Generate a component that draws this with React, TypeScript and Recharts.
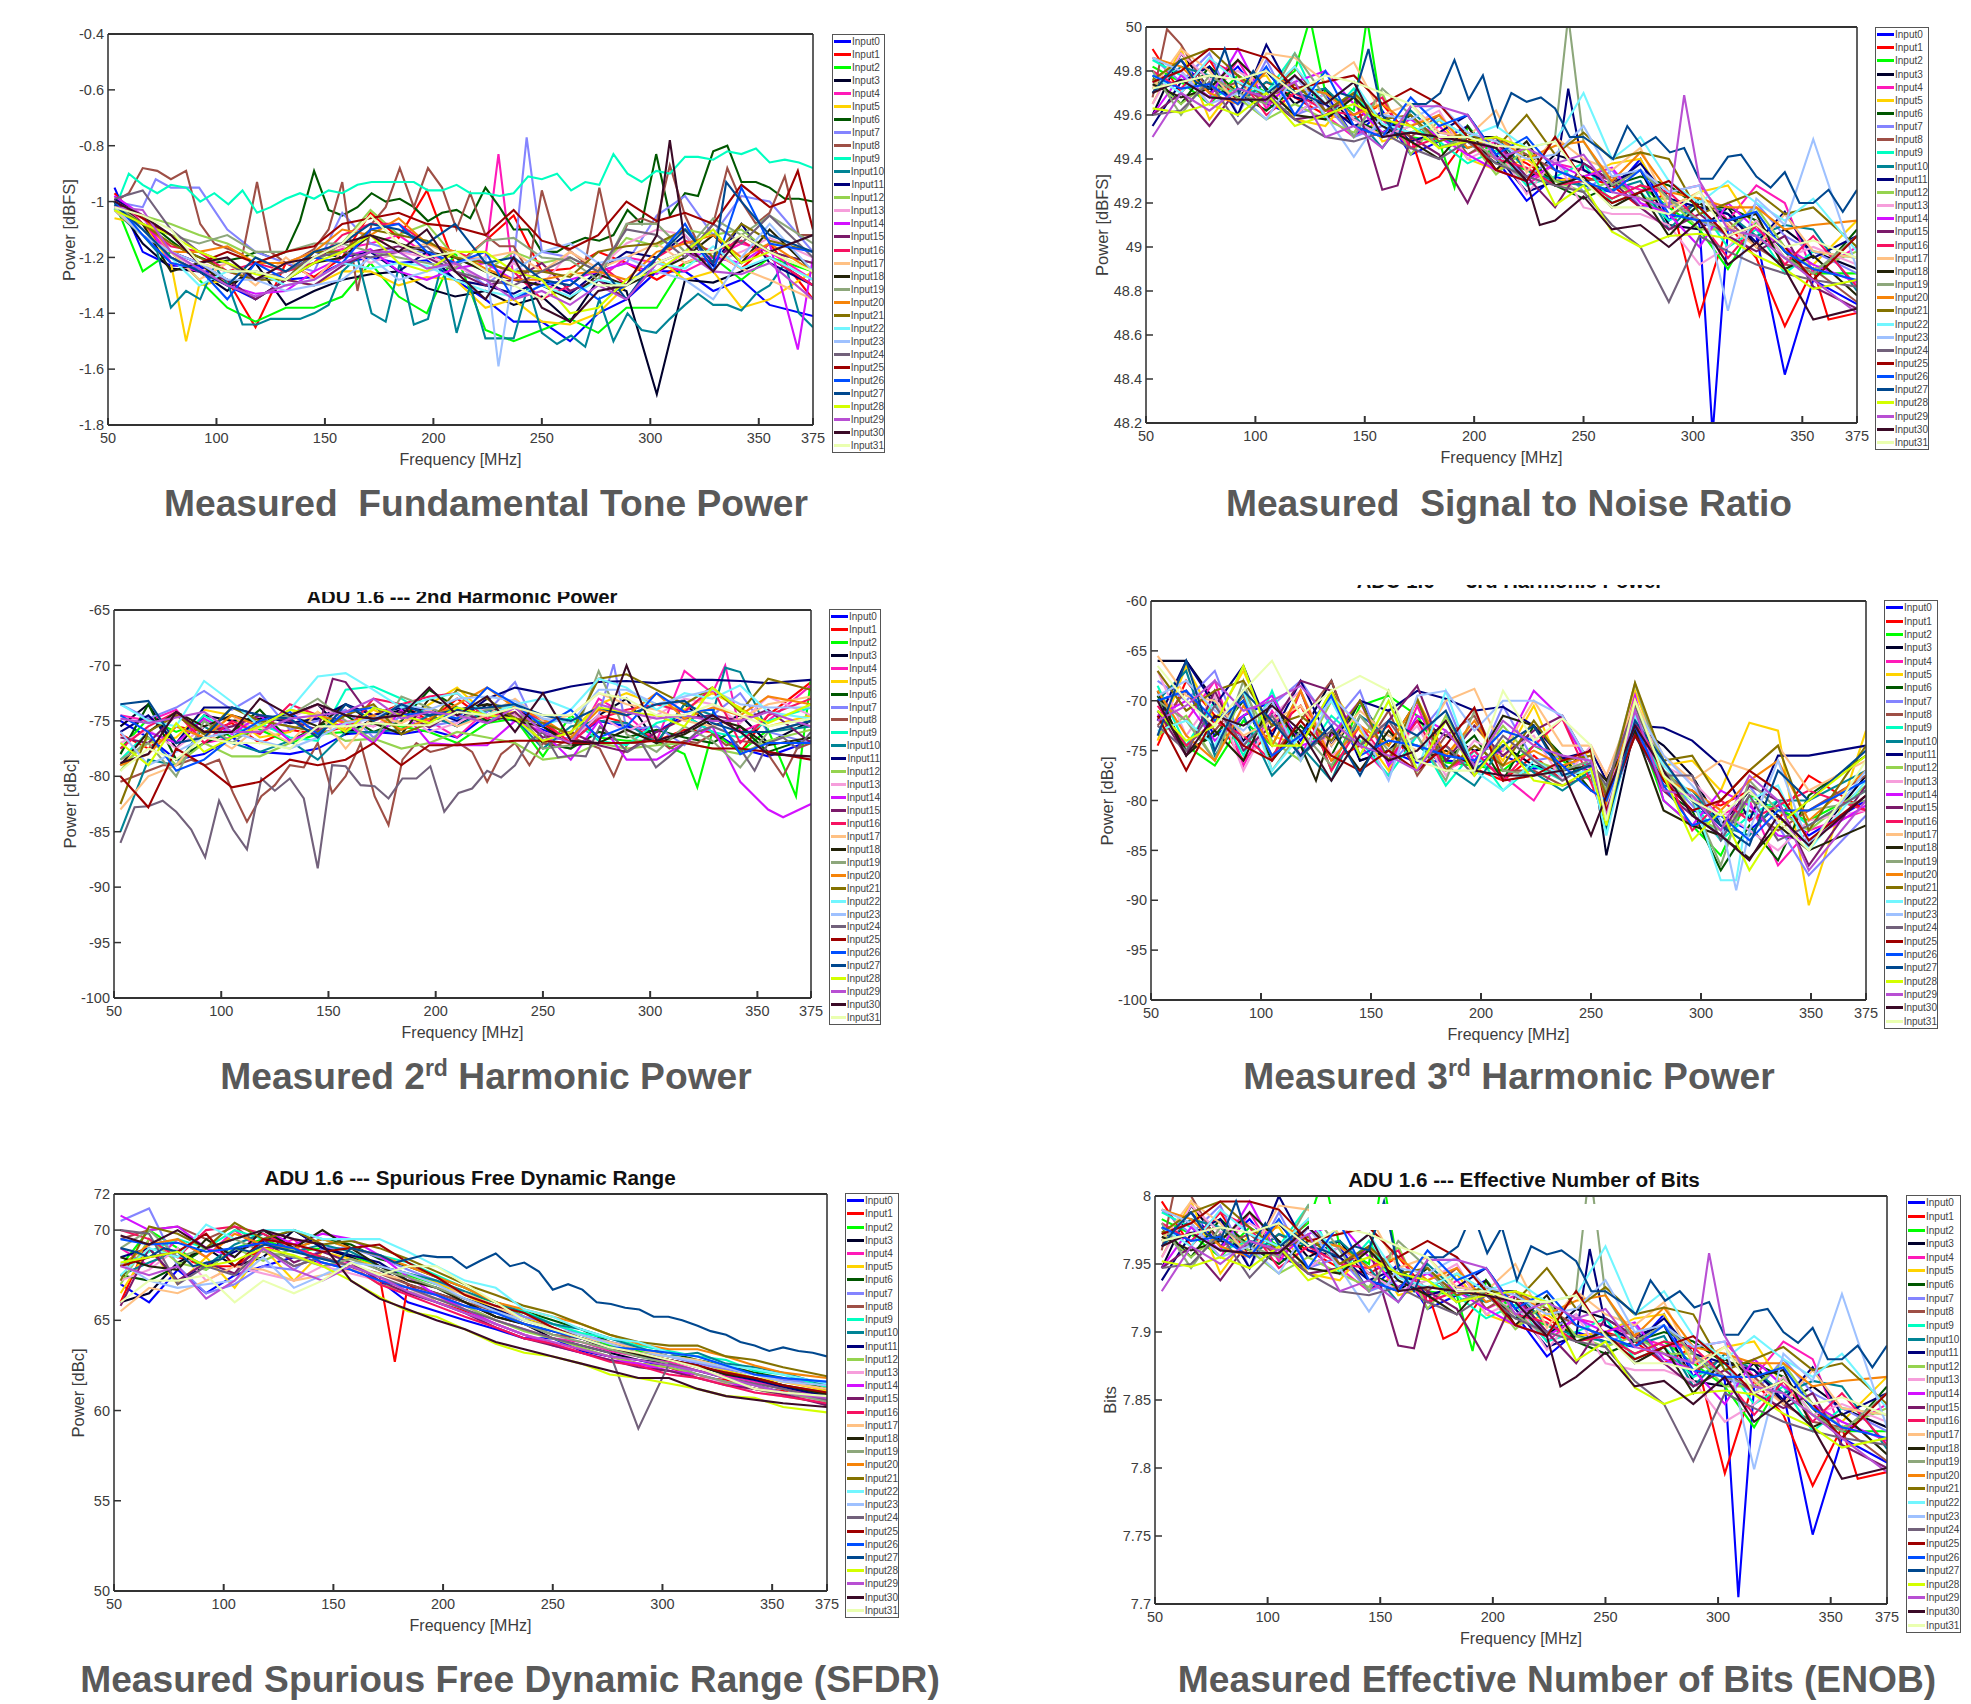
import React from 'react';
import { LineChart, Line, XAxis, YAxis, CartesianGrid } from 'recharts';

const NAMES = Array.from({ length: 32 }, (_, i) => `Input${i}`);
const COLORS = ['#0000ff','#ff0000','#00ff00','#00002b','#ff1ab8','#ffd300','#005700','#8484ff','#9e4f46','#00ffc1','#008495','#00007b','#95d34f','#f69edb','#d311ff','#7b1a6a','#f61261','#ffc184','#232309','#8da77b','#f68409','#847200','#72f6ff','#9ec1ff','#72617b','#9e0000','#004fff','#00488f','#d3ff00','#b84fd3','#3b0a27','#eaffb0'];

const FREQ_FINE = [53,59.6,66,72.7,79,86,92.5,99,105.5,112,118.7,125,132,138.5,145,151.7,158,165,171.5,178,184.5,191,197.5,204,210.7,217,224,230.5,237,243.7,250,257,263.5,270,276.5,283,289.5,296,302.7,309,316,322,329,335.5,342,348.7,355,362,368.5,375];
const COARSE = [53,66,79,92,105,118,132,145,158,171,184,197,210,224,237,250,263,276,289,303,316,329,342,355,375];
const COARSE_3RD = [53,66,79,92,105,118,132,145,158,171,184,197,210,224,237,250,257,270,283,296,309,322,335,349,375];

// Fundamental tone power, hundredths of a dB below 0 dBFS
const FUND = [
[95,118,123,123,130,135,128,127,122,120,122,121,128,135,143,143,150,140,135,125,125,132,128,137,141],
[97,108,120,125,128,145,122,127,120,104,113,96,123,114,105,125,124,118,122,128,122,118,124,115,135],
[100,125,118,128,138,143,138,138,134,122,134,140,118,146,150,146,142,147,138,138,122,120,128,120,125],
[100,115,124,125,132,122,137,132,128,126,125,131,134,132,137,134,143,128,132,130,128,129,125,120,130],
[98,108,118,122,125,128,125,120,117,115,112,119,122,120,128,130,132,128,120,122,125,120,115,118,128],
[106,108,122,130,128,135,128,130,125,125,130,127,128,138,135,143,144,140,130,120,128,125,138,135,125],
[100,102,106,110,114,118,120,122,121,120,118,120,118,107,89,103,105,102,97,100,99,102,107,104,103,106,95,102,110,110,118,118,115,113,114,112,103,108,83,105,97,98,82,80,93,93,95,99,99,100],
[100,102,95,95,110,118,122,125,104,115,118,118,122,130,122,118,120,125,122,105,98,112,98,100,118],
[100,97,88,89,92,89,108,115,117,119,93,118,122,120,117,110,93,132,108,102,88,102,88,95,110,97,112,116,116,125,96,115,118,122,95,118,108,106,108,87,105,115,108,88,100,108,104,91,112,112],
[103,90,94,97,94,95,100,97,101,96,104,102,99,97,99,96,97,94,93,93,93,93,96,96,94,97,97,98,97,91,92,90,96,93,94,83,90,93,89,90,84,84,85,82,83,81,86,85,86,88],
[103,108,112,118,138,132,135,123,130,144,144,142,142,142,140,137,125,120,140,143,122,144,142,122,147,130,149,149,149,130,147,151,148,152,135,150,140,146,147,142,137,133,137,137,139,133,130,122,140,145],
[99,105,118,122,128,135,128,118,120,118,125,118,128,130,133,128,133,125,118,120,112,123,108,122,130],
[101,105,108,112,115,120,125,122,115,103,112,108,120,125,118,122,120,125,113,116,110,112,110,118,122],
[100,106,118,125,122,128,122,118,116,122,118,120,123,128,122,130,118,124,115,110,112,122,118,113,120],
[98,105,122,125,130,133,132,125,120,117,125,128,124,122,128,130,128,125,122,126,118,120,122,115,120],
[100,110,120,125,128,135,128,130,123,118,116,120,125,130,128,122,132,128,135,122,118,122,112,118,122],
[102,108,116,118,125,122,125,122,112,108,108,115,118,122,125,135,130,122,130,120,114,118,114,120,130],
[103,112,118,128,122,130,120,128,118,112,118,115,120,120,118,125,118,124,120,115,122,118,124,128,135],
[100,108,125,122,130,125,128,122,120,112,115,118,120,125,128,130,135,126,130,125,120,112,122,110,125],
[101,108,112,115,112,118,118,115,115,118,120,122,124,114,113,120,121,128,108,108,118,106,112,105,115],
[100,105,118,118,116,122,122,118,110,112,106,115,118,124,128,128,126,125,128,118,115,112,120,115,125],
[102,108,115,120,125,128,128,118,118,110,112,114,120,122,125,125,127,118,116,115,110,120,108,114,118],
[101,110,120,130,125,125,130,128,122,124,122,123,128,132,134,130,134,128,130,122,124,116,124,120,128],
[102,112,118,122,128,128,132,130,128,120,128,125,122,120,125,118,115,122,120,125,128,135,120,108,125],
[99,96,110,118,122,128,125,120,118,120,118,116,125,128,130,125,120,125,110,112,120,108,115,105,120],
[100,106,112,122,118,122,118,116,108,106,104,108,109,112,103,114,117,112,100,107,104,108,94,102,110],
[100,112,122,124,135,122,128,120,122,110,108,118,122,118,135,130,128,135,130,120,108,125,95,115,118],
[101,110,120,125,130,120,125,118,115,108,110,115,108,122,120,128,130,122,135,120,110,122,100,112,118],
[103,108,112,118,122,126,128,122,118,112,122,125,118,118,125,128,140,138,128,125,118,110,122,118,125],
[102,103,118,124,130,134,130,128,122,118,118,124,122,128,135,132,137,130,135,122,118,125,126,122,135],
[100,105,112,122,120,128,122,120,115,112,118,110,125,135,120,138,143,132,130,112,115,125,112,118,112],
[102,105,110,122,125,125,128,120,115,105,115,120,118,125,130,135,125,130,130,122,118,118,112,118,125],
];
const FUND_SPIKES = [[3,303,169],[4,230,83],[5,86,150],[7,72,92],[7,86,95],[7,243,77],[14,368,153],[23,230,159],[25,362,100],[25,368,89],[27,335,93],[30,309,78]];

// Signal to noise ratio, hundredths of a dB above 48 dB
const SNR = [
[172,185,170,182,165,160,170,150,162,142,148,155,140,121,132,128,125,140,112,110,108,105,42,85,74],
[190,170,185,165,175,168,160,158,165,150,132,150,145,138,130,132,128,118,125,69,110,95,64,90,70],
[182,175,165,178,170,180,170,162,160,150,148,155,140,135,128,130,122,128,118,108,90,112,95,88,88],
[160,188,172,168,180,165,172,155,150,160,145,150,150,130,142,138,130,135,110,108,118,100,108,98,90],
[175,180,165,185,163,178,160,150,158,145,155,142,148,128,138,135,130,126,125,128,112,128,120,88,100],
[165,190,158,175,178,158,155,170,148,152,158,140,135,140,130,132,138,140,118,125,128,108,100,92,112],
[178,165,182,170,162,172,170,158,152,160,145,148,138,142,128,122,128,132,128,118,118,112,98,85,108],
[186,175,188,160,185,160,165,150,155,148,152,150,145,132,140,125,135,118,120,112,105,120,105,98,88],
[168,192,170,175,165,182,162,168,158,150,160,142,150,142,135,130,132,122,115,120,112,100,92,90,75],
[185,178,168,172,170,188,158,172,150,155,148,138,144,128,132,138,120,125,112,118,100,108,88,98,95],
[170,182,178,165,175,170,172,160,145,162,150,145,150,135,130,128,126,130,108,122,115,105,110,108,80],
[155,175,182,160,192,168,165,155,160,148,152,160,142,125,130,135,128,138,122,118,115,102,116,95,105],
[176,165,175,168,158,165,158,152,170,142,158,150,133,145,130,125,130,122,122,108,108,118,100,90,98],
[165,188,176,180,172,160,170,158,150,155,162,140,146,124,140,118,115,115,110,92,100,112,95,100,92],
[160,178,168,190,165,175,180,165,152,158,150,142,135,130,138,132,136,120,115,100,120,108,100,92,84],
[160,170,155,172,168,158,160,170,126,150,142,120,148,132,118,138,130,118,108,115,105,98,105,82,72],
[180,172,185,178,160,170,162,160,168,145,150,148,140,136,128,130,122,128,125,112,95,110,92,105,82],
[172,190,180,165,188,186,175,184,160,165,152,150,162,134,150,140,135,145,118,125,110,100,115,98,95],
[174,168,172,185,172,160,158,168,155,148,140,155,135,148,128,132,118,125,105,120,112,115,90,96,78],
[180,160,178,170,165,188,168,150,172,160,145,150,140,130,136,148,128,135,122,112,108,105,95,88,105],
[186,182,170,165,180,172,170,160,165,155,160,145,150,140,146,148,130,143,125,122,118,118,108,110,112],
[176,185,190,178,168,174,162,170,158,160,148,152,145,160,142,152,140,143,140,115,120,125,115,118,100],
[178,170,186,175,170,182,165,175,156,152,158,150,155,145,148,170,140,150,130,120,130,120,112,122,98],
[186,180,165,170,158,178,160,141,160,158,165,152,148,140,142,155,132,135,125,128,71,122,110,149,90],
[160,162,175,156,170,158,150,148,152,145,140,148,138,132,128,125,110,100,75,105,98,92,88,85,82],
[175,180,190,190,186,172,175,178,165,172,165,150,135,130,150,130,120,125,130,118,105,110,100,85,105],
[178,172,174,165,182,160,180,155,150,168,155,160,142,150,135,130,125,135,115,112,112,116,98,90,85],
[170,178,185,175,172,190,170,180,170,175,170,168,165,170,168,190,160,150,165,165,170,185,167,178,155,170,166,168,163,150,150,145,140,155,146,150,143,145,131,131,141,142,132,127,134,120,120,126,116,126],
[163,161,165,160,170,155,160,165,158,155,145,148,150,145,119,128,107,100,105,106,104,96,90,81,85],
[150,170,162,172,168,175,150,155,145,164,164,160,140,145,138,142,125,122,118,130,108,105,95,85,70],
[170,176,168,167,167,178,165,175,150,152,150,148,145,130,112,123,108,110,100,112,92,102,90,67,72],
[172,175,178,176,180,170,178,175,170,165,150,150,146,145,148,130,118,118,115,125,105,110,100,103,95],
];
const SNR_SPIKES = [[0,309,15],[0,296,120],[1,178,129],[1,362,67],[2,125,204],[2,151,204],[2,191,127],[8,59.6,199],[11,243,172],[15,165,128],[19,243,205],[19,237,150],[29,296,169],[30,230,110]];

// 2nd harmonic power, tenths of a dB below 0 dBc
const H2 = [
[750,765,785,780,765,778,780,775,762,760,762,758,765,745,750,758,768,750,755,760,745,760,775,782,768],
[762,775,755,760,752,770,758,762,755,745,735,750,730,750,745,752,770,745,752,768,758,760,778,745,715],
[775,748,760,750,765,758,770,762,760,752,755,760,770,752,748,782,745,765,768,768,780,760,778,758,712],
[755,735,775,745,750,748,745,735,762,748,740,745,755,735,738,755,770,745,730,770,735,755,745,770,750],
[745,750,740,770,765,755,760,745,750,755,742,750,765,740,745,770,775,730,745,768,705,725,760,750,718],
[790,770,765,740,745,765,760,742,758,740,752,735,720,745,742,770,760,735,725,735,740,725,738,755,745],
[780,735,785,770,760,740,768,755,745,760,750,722,738,750,745,770,775,760,765,758,765,770,755,778,765],
[735,748,738,723,740,725,758,750,740,765,745,755,750,742,715,768,765,745,758,755,772,745,725,760,770],
[805,800,795,790,790,785,790,785,815,841,818,808,790,792,770,815,800,770,818,844,785,770,778,775,770,778,805,780,770,790,770,772,765,770,775,800,770,770,765,775,768,770,762,772,768,770,780,800,775,770],
[785,760,770,745,762,752,765,768,722,719,730,745,738,752,735,752,748,768,772,752,745,760,765,750,738],
[850,785,790,755,770,778,768,785,760,760,758,745,755,740,748,775,755,750,752,770,735,745,745,760,755],
[760,745,770,738,738,745,752,748,735,745,738,740,750,730,720,725,719,715,714,716,713,713,714,716,713],
[795,765,790,770,782,782,770,755,768,766,775,770,760,765,770,785,782,770,775,772,770,775,780,768,758],
[770,758,775,755,745,760,748,735,750,755,742,760,752,738,745,760,768,745,760,745,730,735,752,728,745],
[790,760,770,748,762,745,768,758,752,770,740,770,772,772,750,760,785,750,785,785,770,755,805,830,825],
[765,770,745,760,755,745,750,758,715,750,742,756,740,752,742,765,760,772,778,760,748,745,750,740,770],
[775,755,742,770,750,762,735,745,760,730,735,728,725,748,738,750,770,748,740,735,742,720,770,745,730],
[830,800,790,760,775,755,770,742,775,745,752,740,755,745,730,750,745,725,735,740,750,755,748,735,728],
[790,760,742,755,745,752,745,755,735,752,762,730,740,735,750,755,772,770,758,770,762,748,755,772,765],
[785,770,800,750,770,752,745,730,750,768,728,738,748,740,735,775,772,705,762,778,755,768,792,760,750],
[790,780,755,765,745,755,740,745,752,745,758,748,735,720,738,748,765,740,745,725,748,738,745,728,735],
[825,760,745,762,738,750,755,760,745,735,762,752,722,730,748,752,762,712,708,722,735,720,742,712,722],
[735,750,755,714,733,755,740,710,707,722,738,730,725,745,735,730,740,712,720,740,725,730,718,742,748],
[760,790,778,765,760,768,775,765,752,748,735,740,730,728,732,748,752,722,722,735,728,722,735,738,738],
[860,828,827,822,832,848,873,822,848,866,802,813,802,820,883,790,791,808,809,820,802,802,791,832,815,811,795,801,790,768,760,783,781,782,755,765,778,770,792,782,770,760,755,760,775,795,770,765,775,760],
[800,828,775,790,810,805,785,790,785,770,790,772,772,770,768,768,770,770,770,768,770,775,775,778,785],
[745,760,795,785,765,750,742,762,742,738,745,742,748,720,735,755,740,765,755,725,742,740,780,770,770],
[735,732,770,765,738,745,748,765,735,750,735,745,740,738,735,745,750,738,745,735,732,752,760,760,750],
[770,790,752,778,765,755,740,745,760,738,745,752,738,745,748,768,760,738,742,745,755,720,740,752,735],
[748,752,747,742,760,760,748,745,742,730,748,742,745,752,738,760,770,735,742,748,745,750,750,742,755],
[788,780,742,760,760,730,745,735,745,748,745,720,745,728,760,725,768,770,700,768,760,745,760,780,782],
[795,775,785,765,770,770,775,755,755,752,754,754,742,745,738,745,745,725,730,745,745,735,745,755,748],
];
const H2_SPIKES = [[2,322,810],[2,368,818],[4,335,700],[7,283,699],[10,335,702],[10,342,706],[14,362,837],[15,152,712],[19,276,705]];

// 3rd harmonic power, tenths of a dB below 0 dBc
const H3 = [
[700,690,735,715,700,740,695,760,750,762,760,762,755,768,765,770,795,728,780,810,815,830,805,835,800],
[745,680,715,760,730,705,760,745,725,770,745,768,780,755,780,760,810,735,760,800,805,790,820,775,810],
[710,745,765,720,745,690,770,705,695,715,762,765,770,745,760,780,785,720,800,825,855,795,810,820,790],
[660,660,700,740,712,735,680,760,750,720,735,750,745,765,770,748,855,725,745,775,825,790,815,845,775],
[695,720,680,765,710,755,700,745,775,705,770,755,775,800,755,790,800,735,785,790,815,800,865,830,810],
[740,665,720,670,735,745,690,730,770,698,755,725,760,705,770,750,815,690,765,760,790,722,730,905,730],
[695,750,735,700,760,725,755,700,745,700,760,735,780,725,755,790,790,700,790,810,870,825,860,795,755],
[680,700,670,745,705,680,725,690,765,735,700,770,705,760,755,775,820,732,775,805,840,785,825,875,815],
[725,690,730,695,755,720,680,755,710,775,735,715,770,770,785,775,818,725,770,795,825,810,830,810,775],
[685,745,700,755,690,760,715,740,775,735,785,750,790,765,780,760,830,715,780,800,840,815,800,825,790],
[700,670,755,715,775,745,780,715,735,745,765,785,745,772,790,770,805,735,785,790,825,835,800,800,770],
[720,660,705,665,735,680,745,700,710,690,698,710,706,725,758,750,780,725,727,740,765,820,755,755,745],
[735,715,760,690,740,760,700,745,690,770,715,765,725,760,770,760,800,712,760,815,830,800,810,830,785],
[670,735,695,770,715,690,755,735,755,725,775,740,755,735,780,745,775,705,765,780,810,830,850,820,810],
[715,700,740,715,695,745,735,700,765,715,730,760,750,690,718,770,795,695,800,825,790,805,835,840,805],
[710,755,690,750,725,680,690,745,720,685,760,725,755,730,715,765,800,730,790,815,835,785,800,865,785],
[705,745,720,735,760,690,770,725,760,720,770,750,780,745,718,782,820,720,770,830,800,820,805,790,810],
[655,695,700,735,720,705,745,710,735,750,700,688,750,700,745,745,775,700,755,780,760,770,745,790,760],
[690,755,730,760,700,745,730,770,730,760,750,765,715,725,770,765,780,730,810,825,835,858,825,850,825],
[700,720,760,680,770,730,765,715,750,735,780,710,770,775,770,760,790,683,770,800,865,780,810,810,800],
[690,735,760,705,745,690,760,725,745,700,755,720,765,750,765,755,805,700,780,790,810,780,760,820,770],
[670,710,690,680,725,715,740,700,760,698,770,745,765,720,760,755,795,682,760,755,800,770,745,830,745],
[730,720,745,690,770,735,700,755,700,770,690,770,790,760,775,770,835,715,765,795,880,800,785,850,780],
[695,680,710,730,700,760,695,725,780,695,690,730,700,700,715,765,810,705,755,785,820,830,760,845,770],
[725,750,705,745,715,755,730,745,720,760,745,775,735,760,780,762,785,705,775,775,840,795,840,825,790],
[715,770,715,745,760,720,755,770,750,770,745,707,780,775,760,750,810,735,780,810,800,770,790,840,795],
[700,690,720,700,755,735,695,755,740,745,755,760,730,740,765,790,800,725,785,825,815,840,810,810,780],
[735,660,750,690,720,755,725,775,720,735,710,770,745,725,775,765,825,720,760,800,825,845,770,800,750],
[710,740,725,665,745,745,690,755,700,770,720,775,740,780,785,768,825,700,775,840,810,870,825,800,755],
[720,705,680,710,700,685,720,745,755,770,730,765,720,745,755,760,815,710,790,795,830,775,800,870,800],
[700,755,715,725,705,730,780,735,760,750,720,770,775,775,770,835,795,725,770,815,835,860,815,845,795],
[665,700,725,690,660,715,690,675,690,760,770,770,690,740,718,745,820,700,775,800,815,790,820,850,760],
];
const H3_SPIKES = [[18,125,780],[5,322,722],[22,316,880],[23,316,890]];

// Spurious free dynamic range, tenths of a dB
const SFDR = [
[670,660,678,665,675,680,685,682,678,672,660,655,650,645,640,640,633,630,628,624,620,616,612,610,604],
[660,695,685,680,680,690,690,685,680,675,670,660,655,648,642,637,634,630,626,624,618,617,612,611,603],
[680,700,690,678,690,695,688,690,686,680,675,670,665,660,652,645,642,636,633,630,627,622,618,614,608],
[660,665,682,690,680,685,700,690,685,678,670,665,660,652,648,640,636,632,628,626,622,618,614,610,606],
[690,680,695,685,700,688,695,680,682,672,668,664,658,650,645,640,638,633,630,627,622,619,616,612,607],
[665,690,670,685,668,690,672,688,684,680,676,671,664,656,652,645,640,638,632,630,627,622,618,616,611],
[675,672,680,690,695,700,690,695,692,684,680,674,668,660,655,650,645,638,634,632,628,625,621,618,612],
[705,712,680,665,670,680,678,690,690,685,678,672,665,658,652,648,642,638,635,630,626,623,620,617,615],
[695,700,702,695,702,690,680,685,680,676,670,665,660,655,648,642,640,634,631,628,624,621,618,614,610],
[680,688,695,690,700,695,700,695,690,686,682,675,668,660,655,648,643,640,636,633,630,628,622,620,613],
[675,682,688,680,692,698,688,692,688,680,676,672,666,660,654,648,645,640,635,630,632,626,624,621,614],
[685,690,672,680,688,694,700,690,686,682,672,668,662,656,650,646,640,635,630,628,625,620,617,613,608],
[670,695,682,678,690,683,690,684,680,670,666,662,658,650,644,640,635,630,626,624,620,615,612,608,604],
[672,678,690,672,680,676,672,680,676,672,668,660,654,648,642,638,632,628,625,622,618,616,610,608,605],
[708,700,702,690,685,700,692,698,695,686,674,664,656,648,642,636,632,628,626,622,620,616,612,610,606],
[658,690,672,682,676,695,682,688,682,672,665,660,654,646,640,636,632,628,624,622,618,614,612,609,603],
[700,695,685,700,702,698,690,685,680,670,664,658,652,646,640,637,632,627,625,620,618,614,610,608,604],
[655,668,665,672,680,678,672,675,678,676,672,668,665,658,650,646,640,638,634,630,628,624,620,616,612],
[685,680,678,695,685,700,690,700,690,680,672,668,660,652,648,644,640,634,631,628,625,620,618,614,609],
[690,700,685,690,695,688,685,680,684,678,674,668,662,655,648,642,638,634,630,626,620,616,614,610,605],
[680,692,695,685,698,692,690,695,690,686,680,674,668,660,656,652,648,642,637,634,634,630,625,621,618],
[672,702,698,690,704,695,700,692,694,690,684,677,670,664,658,654,648,642,638,636,636,630,628,624,619],
[675,690,685,703,695,700,700,695,695,695,688,680,672,668,656,652,645,640,638,632,630,625,623,620,615],
[682,672,668,670,672,685,668,675,682,680,676,670,662,655,650,645,642,637,632,630,627,624,620,616,614],
[700,698,670,680,675,690,680,685,680,674,668,662,656,650,645,640,636,632,630,626,622,618,615,612,606],
[680,685,688,698,680,695,692,688,690,692,682,674,664,658,654,646,640,635,632,628,625,621,618,614,610],
[695,692,693,688,690,693,690,682,678,672,668,664,658,654,648,644,640,635,634,632,630,625,620,618,616],
[690,688,685,690,688,680,682,684,690,688,692,690,688,686,684,682,690,688,686,682,684,686,685,685,679,683,687,680,682,677,667,670,667,660,659,657,656,652,652,650,647,644,642,638,636,633,635,633,632,630],
[682,685,688,680,683,690,686,680,672,663,655,652,645,637,632,630,626,620,618,615,612,608,607,602,599],
[680,675,680,662,672,690,678,672,680,674,666,660,654,648,642,638,634,630,628,625,622,618,614,610,607],
[697,692,700,690,695,700,695,692,672,662,656,650,645,638,634,630,626,622,618,618,612,608,606,604,602],
[660,672,672,675,660,672,665,672,682,675,680,680,670,660,650,645,640,635,632,628,624,618,612,610,608],
];
const SFDR_SPIKES = [[1,178,627],[24,289,590]];

// Effective number of bits, thousandths above 7 bits
const ENOB = [
[967,988,963,983,955,947,963,930,950,917,927,938,913,882,900,893,889,913,867,864,860,855,751,822,804],
[996,963,988,955,972,960,947,943,955,930,900,930,922,910,897,900,893,877,889,796,864,839,787,830,797],
[983,972,955,977,963,980,963,950,947,930,927,938,913,905,893,897,884,893,877,860,830,867,839,827,827],
[947,993,967,960,980,955,967,938,930,947,922,930,930,897,917,910,897,905,864,860,877,847,860,844,830],
[972,980,955,988,952,977,947,930,943,922,938,917,927,893,910,905,897,890,889,893,867,893,880,827,847],
[955,996,943,972,977,943,938,963,927,933,943,913,905,913,897,900,910,913,877,889,893,860,847,834,867],
[977,955,983,963,950,967,963,943,933,947,922,927,910,917,893,884,893,900,893,877,877,867,844,822,860],
[990,972,993,947,988,947,955,930,938,927,933,930,922,900,913,889,905,877,880,867,855,880,855,844,827],
[960,1000,963,972,955,983,950,960,943,930,947,917,930,917,905,897,900,884,872,880,867,847,834,830,805],
[988,977,960,967,963,993,943,967,930,938,927,910,920,893,900,910,880,889,867,877,847,860,827,844,839],
[963,983,977,955,972,963,967,947,922,950,930,922,930,905,897,893,890,897,860,884,872,855,864,860,814],
[938,972,983,947,1000,960,955,938,947,927,933,947,917,889,897,905,893,910,884,877,872,850,874,839,855],
[973,955,972,960,943,955,943,933,963,917,943,930,902,922,897,889,897,884,884,860,860,877,847,830,844],
[955,993,973,980,967,947,963,943,930,938,950,913,923,887,913,877,872,872,864,834,847,867,839,847,834],
[947,977,960,996,955,972,980,955,933,943,930,917,905,897,910,900,907,880,872,847,880,860,847,834,820],
[947,963,938,967,960,943,947,963,890,930,917,880,927,900,877,910,897,877,860,872,855,844,855,817,800],
[980,967,988,977,947,963,950,947,960,922,930,927,913,907,893,897,884,893,889,867,839,864,834,855,817],
[967,996,980,955,993,990,972,986,947,955,933,930,950,903,930,913,905,922,877,889,864,847,872,844,839],
[970,960,967,988,967,947,943,960,938,927,913,938,905,927,893,900,877,889,855,880,867,872,830,840,810],
[980,947,977,963,955,993,960,930,967,947,922,930,913,897,907,927,893,905,884,867,860,855,839,827,855],
[990,983,963,955,980,967,963,947,955,938,947,922,930,913,923,927,897,918,889,884,877,877,860,864,867],
[973,988,996,977,960,970,950,963,943,947,927,933,922,947,917,933,913,918,913,872,880,889,872,877,847],
[977,963,990,972,963,983,955,972,940,933,943,930,938,922,927,963,913,930,897,880,897,880,867,884,844],
[990,980,955,963,943,977,947,915,947,943,955,933,927,913,917,938,900,905,889,893,799,884,864,928,830],
[947,950,972,940,963,943,930,927,933,922,913,927,910,900,893,889,864,847,805,855,844,834,827,822,817],
[972,980,996,996,990,967,972,977,955,967,955,930,905,897,930,897,880,889,897,877,855,864,847,822,855],
[977,967,970,955,983,947,980,938,930,960,938,947,917,930,905,897,889,905,872,867,867,874,844,830,822],
[963,977,988,972,967,996,963,980,963,972,963,960,955,963,960,996,947,930,955,955,963,988,958,977,938,963,957,960,952,930,930,922,913,938,923,930,918,922,898,898,915,917,900,892,903,880,880,890,874,890],
[952,948,955,947,963,938,947,955,943,938,922,927,930,922,879,893,859,847,855,857,854,840,830,815,822],
[930,963,950,967,960,972,930,938,922,953,953,947,913,922,910,917,889,884,877,897,860,855,839,822,797],
[963,973,960,958,958,977,955,972,930,933,930,927,922,897,867,885,860,864,847,867,834,850,830,792,800],
[967,972,977,973,980,963,977,972,963,955,930,930,923,922,927,897,877,877,872,889,855,864,847,852,839],
];
const ENOB_SPIKES = [[0,309,705],[0,296,880],[1,178,895],[1,362,792],[2,125,1015],[2,151,1015],[2,191,886],[8,59.6,1012],[11,243,961],[15,165,888],[19,243,1022],[19,237,930],[29,296,958],[30,230,860]];

const X_TICKS = [50,100,150,200,250,300,350,375];

type Panel = {
  rows: number[][]; spikes: number[][]; coarse: number[]; decode: (v: number) => number;
  domain: [number, number]; yTicks: number[]; yLabel: string; caption: React.ReactNode;
  box: number[]; legend: number[]; capXY: number[]; ylabelX: number; title?: string; titleXY?: number[]; clip?: number[];
};

const PANELS: Panel[] = [
  { rows: FUND, spikes: FUND_SPIKES, coarse: COARSE, decode: v => -v / 100, domain: [-1.8, -0.4], yTicks: [-1.8,-1.6,-1.4,-1.2,-1,-0.8,-0.6,-0.4], yLabel: 'Power [dBFS]', caption: 'Measured  Fundamental Tone Power', box: [108,34,813,425], legend: [832,34,885,453], capXY: [486,503], ylabelX: 69 },
  { rows: SNR, spikes: SNR_SPIKES, coarse: COARSE, decode: v => 48 + v / 100, domain: [48.2, 50], yTicks: [48.2,48.4,48.6,48.8,49,49.2,49.4,49.6,49.8,50], yLabel: 'Power [dBFS]', caption: 'Measured  Signal to Noise Ratio', box: [1146,27,1857,423], legend: [1875,27,1929,450], capXY: [1509,503], ylabelX: 1102 },
  { rows: H2, spikes: H2_SPIKES, coarse: COARSE, decode: v => -v / 10, domain: [-100, -65], yTicks: [-100,-95,-90,-85,-80,-75,-70,-65], yLabel: 'Power [dBc]', caption: <>Measured 2<sup style={{ fontSize: '62%', lineHeight: 0 }}>rd</sup> Harmonic Power</>, box: [114,610,811,998], legend: [829,609,881,1025], capXY: [486,1076], ylabelX: 70, title: 'ADU 1.6 --- 2nd Harmonic Power', titleXY: [462,597], clip: [592,603] },
  { rows: H3, spikes: H3_SPIKES, coarse: COARSE_3RD, decode: v => -v / 10, domain: [-100, -60], yTicks: [-100,-95,-90,-85,-80,-75,-70,-65,-60], yLabel: 'Power [dBc]', caption: <>Measured 3<sup style={{ fontSize: '62%', lineHeight: 0 }}>rd</sup> Harmonic Power</>, box: [1151,601,1866,1000], legend: [1884,600,1938,1029], capXY: [1509,1076], ylabelX: 1107, title: 'ADU 1.6 --- 3rd Harmonic Power', titleXY: [1510,581], clip: [585,592] },
  { rows: SFDR, spikes: SFDR_SPIKES, coarse: COARSE, decode: v => v / 10, domain: [50, 72], yTicks: [50,55,60,65,70,72], yLabel: 'Power [dBc]', caption: 'Measured Spurious Free Dynamic Range (SFDR)', box: [114,1194,827,1591], legend: [845,1193,899,1618], capXY: [510,1679], ylabelX: 78, title: 'ADU 1.6 --- Spurious Free Dynamic Range', titleXY: [470,1178] },
  { rows: ENOB, spikes: ENOB_SPIKES, coarse: COARSE, decode: v => 7 + v / 1000, domain: [7.7, 8], yTicks: [7.7,7.75,7.8,7.85,7.9,7.95,8], yLabel: 'Bits', caption: 'Measured Effective Number of Bits (ENOB)', box: [1155,1196,1887,1604], legend: [1906,1195,1961,1633], capXY: [1557,1679], ylabelX: 1110, title: 'ADU 1.6 --- Effective Number of Bits', titleXY: [1524,1180] },
];

function seriesPoints(p: Panel, i: number) {
  const row = p.rows[i];
  const xs = row.length === 50 ? FREQ_FINE : p.coarse;
  const byX = new Map<number, number>();
  row.forEach((v, k) => byX.set(xs[k], v));
  p.spikes.forEach(s => { if (s[0] === i) byX.set(s[1], s[2]); });
  return [...byX.entries()].sort((a, b) => a[0] - b[0]).map(([f, v]) => ({ f, v: p.decode(v) }));
}

const AXIS = '#333333';
const TXT = '#3c3c3c';
const FONT = '"Liberation Sans", Arial, sans-serif';
const LEFT = 60, RIGHT = 4, TOP = 4, BOTTOM = 46, PAD_T = 12, PAD_R = 26;

function Chart({ p }: { p: Panel }) {
  const [x0, y0, x1, y1] = p.box;
  const w = x1 - x0, h = y1 - y0;
  const tickStyle = { fontSize: 14.5, fill: TXT, fontFamily: FONT };
  return (
    <div style={{ position: 'absolute', left: x0 - LEFT, top: y0 - TOP - PAD_T }}>
      <LineChart width={w + LEFT + RIGHT + PAD_R} height={h + TOP + BOTTOM + PAD_T} margin={{ top: PAD_T, right: PAD_R, bottom: 0, left: 0 }}>
        <CartesianGrid stroke="#dcdcdc" strokeWidth={1.3} />
        <XAxis xAxisId="b" type="number" dataKey="f" domain={[50, 375]} ticks={X_TICKS} allowDataOverflow height={BOTTOM} interval={0}
          tick={tickStyle} tickSize={-7} tickMargin={15} stroke={AXIS} strokeWidth={2}
          label={{ value: 'Frequency [MHz]', position: 'insideBottom', offset: 6, fontSize: 16, fill: TXT, fontFamily: FONT }} />
        <XAxis xAxisId="t" orientation="top" type="number" dataKey="f" domain={[50, 375]} ticks={X_TICKS} allowDataOverflow height={TOP} interval={0}
          tick={false} tickSize={-7} stroke={AXIS} strokeWidth={2} />
        <YAxis yAxisId="l" type="number" domain={p.domain} ticks={p.yTicks} allowDataOverflow width={LEFT} interval={0}
          tick={tickStyle} tickSize={-7} tickMargin={11} stroke={AXIS} strokeWidth={1.5} />
        <YAxis yAxisId="r" orientation="right" type="number" domain={p.domain} ticks={p.yTicks} allowDataOverflow width={RIGHT} interval={0}
          tick={false} tickSize={-7} stroke={AXIS} strokeWidth={1.5} />
        {NAMES.map((n, i) => (
          <Line key={n} xAxisId="b" yAxisId="l" name={n} data={seriesPoints(p, i)} dataKey="v" stroke={COLORS[i]} strokeWidth={2.1}
            dot={false} activeDot={false} isAnimationActive={false} strokeLinejoin="miter" />
        ))}
      </LineChart>
    </div>
  );
}

function ChartLegend({ p }: { p: Panel }) {
  const [x0, y0, x1, y1] = p.legend;
  return (
    <div style={{ position: 'absolute', left: x0, top: y0, width: x1 - x0, height: y1 - y0, boxSizing: 'border-box', border: '1.5px solid #555', background: '#fff', display: 'flex', flexDirection: 'column', fontFamily: FONT, fontSize: 10, color: '#444' }}>
      {NAMES.map((n, i) => (
        <div key={n} style={{ flex: 1, display: 'flex', alignItems: 'center', paddingLeft: 1 }}>
          <span style={{ display: 'inline-block', width: 17, height: 3, background: COLORS[i], marginRight: 1 }} />
          <span>{n}</span>
        </div>
      ))}
    </div>
  );
}

function Texts({ p }: { p: Panel }) {
  const [, y0, , y1] = p.box;
  const cy = (y0 + y1) / 2;
  return (
    <>
      <div style={{ position: 'absolute', left: p.ylabelX - 100, top: cy - 10, width: 200, height: 20, lineHeight: '20px', textAlign: 'center', transform: 'rotate(-90deg)', fontFamily: FONT, fontSize: 16.5, color: TXT }}>{p.yLabel}</div>
      <div style={{ position: 'absolute', left: p.capXY[0] - 500, top: p.capXY[1] - 24, width: 1000, height: 48, lineHeight: '48px', textAlign: 'center', whiteSpace: 'pre', fontFamily: FONT, fontWeight: 700, fontSize: 37.2, color: '#595959' }}>{p.caption}</div>
      {p.title && !p.clip && (
        <div style={{ position: 'absolute', left: p.titleXY![0] - 300, top: p.titleXY![1] - 12, width: 600, height: 24, lineHeight: '24px', textAlign: 'center', fontFamily: FONT, fontWeight: 700, fontSize: 20.7, color: '#111' }}>{p.title}</div>
      )}
      {p.title && p.clip && (
        <div style={{ position: 'absolute', left: p.titleXY![0] - 300, top: p.clip[0], width: 600, height: p.clip[1] - p.clip[0], overflow: 'hidden' }}>
          <div style={{ position: 'absolute', left: 0, top: p.titleXY![1] - 12 - p.clip[0], width: 600, height: 24, lineHeight: '24px', textAlign: 'center', fontFamily: FONT, fontWeight: 700, fontSize: 20.3, color: '#111' }}>{p.title}</div>
        </div>
      )}
    </>
  );
}

export default function App() {
  return (
    <div style={{ position: 'absolute', left: 0, top: 0, width: 1971, height: 1704, background: '#fff', overflow: 'hidden' }}>
      {PANELS.map((p, i) => (
        <React.Fragment key={i}>
          <Chart p={p} />
          <ChartLegend p={p} />
          <Texts p={p} />
        </React.Fragment>
      ))}
      <div style={{ position: 'absolute', left: 1309, top: 1204, width: 412, height: 26, background: '#fff' }} />
    </div>
  );
}
